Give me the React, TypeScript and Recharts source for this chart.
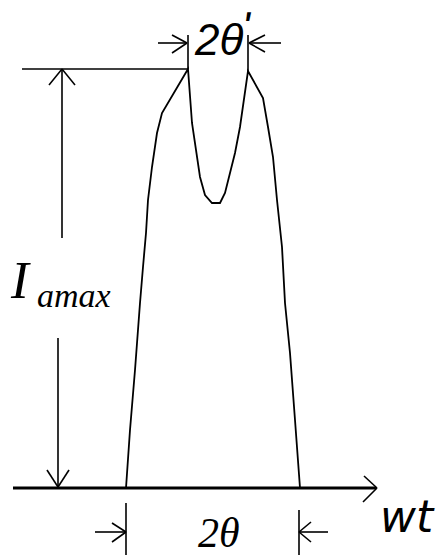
import React from 'react';
import { ComposedChart, Line, XAxis, YAxis, ReferenceLine, ReferenceDot } from 'recharts';

// Current waveform: wt (horizontal units) vs current value
const curveWt = [126, 130, 135, 140, 143, 146, 148, 152, 157, 162, 188, 192, 200, 205, 212, 220, 225, 230, 235, 240, 248, 263, 268, 273, 277, 282, 285, 290, 295, 300];
const curveI = [0, 58, 118, 185, 221, 255, 288, 321, 355, 375, 419, 365, 311, 293, 285, 285, 295, 315, 335, 361, 417, 390, 361, 331, 288, 241, 185, 135, 68, 0];

// Annotation polylines (dimension lines and arrowheads), in the same units
const thinPolylines: number[][][] = [
  [[22, 419], [188, 419]],            // top reference line at I max
  [[62, 419], [62, 250]],             // upper shaft of I_amax arrow
  [[49, 403], [62, 419], [75, 403]],  // up arrowhead
  [[58, 150], [58, 1]],               // lower shaft
  [[47, 18], [58, 1], [69, 18]],      // down arrowhead
  [[188, 419], [188, 453]],           // top left tick
  [[248, 417], [248, 453]],           // top right tick
  [[158, 445], [187, 445]],           // top left arrow
  [[172, 453], [187, 445], [172, 435]],
  [[281, 445], [249, 445]],           // top right arrow
  [[265, 453], [249, 445], [265, 436]],
  [[126, -15], [126, -67]],           // bottom left tick
  [[299, -22], [299, -67]],           // bottom right tick
  [[95, -44], [126, -44]],            // bottom left arrow
  [[112, -35], [126, -44], [112, -54]],
  [[328, -44], [299, -44]],           // bottom right arrow
  [[311, -34], [299, -44], [311, -54]],
  [[364, 12], [377, 0], [363, -14]],  // axis arrowhead
];
const axisLine: number[][] = [[13, 0], [376, 0]];

const curveData = curveWt.map((wt, k) => ({ wt, i: curveI[k] }));

const segmentsOf = (pl: number[][]) =>
  pl.slice(1).map((p, k) => [{ x: pl[k][0], y: pl[k][1] }, { x: p[0], y: p[1] }]);

const textShape = (content: React.ReactNode, style: React.CSSProperties) => (p: any) => (
  <text x={p.cx} y={p.cy} style={style} fill="#000">
    {content}
  </text>
);

const primeStyle: React.CSSProperties = { fontFamily: '"DejaVu Sans", sans-serif', fontWeight: 700, fontSize: 36 };

export default function App() {
  return (
    <div style={{ position: 'absolute', left: 0, top: 0, width: 440, height: 555, background: '#fff' }}>
      <ComposedChart width={440} height={555} data={curveData} margin={{ top: 0, right: 0, bottom: 0, left: 0 }}>
        <XAxis dataKey="wt" type="number" domain={[0, 440]} hide allowDataOverflow />
        <YAxis type="number" domain={[-67, 488]} hide allowDataOverflow />
        {thinPolylines.flatMap((pl, a) =>
          segmentsOf(pl).map((seg, b) => (
            <ReferenceLine key={`t${a}-${b}`} segment={seg} stroke="#000" strokeWidth={1.6} ifOverflow="visible" />
          ))
        )}
        {segmentsOf(axisLine).map((seg, b) => (
          <ReferenceLine key={`ax${b}`} segment={seg} stroke="#000" strokeWidth={3.2} ifOverflow="visible" />
        ))}
        <Line dataKey="i" type="linear" stroke="#000" strokeWidth={1.8} dot={false} activeDot={false} isAnimationActive={false} />
        <ReferenceDot x={195} y={433} r={0} ifOverflow="visible"
          shape={textShape(<>2θ<tspan dx={0} dy={-14} style={primeStyle}>ʹ</tspan></>, { fontFamily: '"Liberation Sans", sans-serif', fontStyle: 'italic', fontSize: 44 })} />
        <ReferenceDot x={11} y={190} r={0} ifOverflow="visible"
          shape={textShape('I', { fontFamily: '"Liberation Serif", serif', fontStyle: 'italic', fontSize: 53 })} />
        <ReferenceDot x={37} y={181} r={0} ifOverflow="visible"
          shape={textShape('amax', { fontFamily: '"Liberation Serif", serif', fontStyle: 'italic', fontSize: 34 })} />
        <ReferenceDot x={198} y={-59} r={0} ifOverflow="visible"
          shape={textShape('2θ', { fontFamily: '"Liberation Serif", serif', fontStyle: 'italic', fontSize: 42 })} />
        <ReferenceDot x={380} y={-44} r={0} ifOverflow="visible"
          shape={textShape('wt', { fontFamily: '"DejaVu Sans", sans-serif', fontStyle: 'italic', fontSize: 44 })} />
      </ComposedChart>
    </div>
  );
}
